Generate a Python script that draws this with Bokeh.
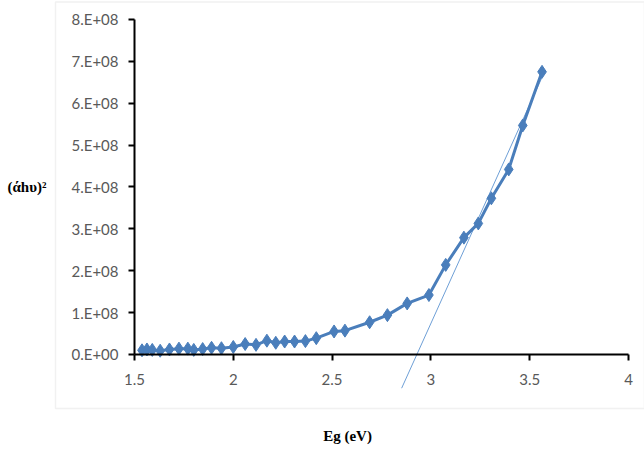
from bokeh.plotting import figure
from bokeh.models import Range1d, FixedTicker, BoxAnnotation, Label
from bokeh.embed import file_html
from bokeh.resources import INLINE

# data
eg = [1.538, 1.563, 1.59, 1.63, 1.677, 1.725, 1.77, 1.80, 1.845, 1.89, 1.94, 2.0,
      2.06, 2.115, 2.17, 2.215, 2.26, 2.31, 2.365, 2.42, 2.51, 2.565, 2.69, 2.78,
      2.88, 2.99, 3.075, 3.167, 3.24, 3.306, 3.394, 3.465, 3.5625]
ahv2 = [0.10e8, 0.12e8, 0.11e8, 0.09e8, 0.12e8, 0.14e8, 0.14e8, 0.11e8, 0.13e8, 0.16e8, 0.15e8, 0.18e8,
        0.25e8, 0.23e8, 0.33e8, 0.28e8, 0.31e8, 0.31e8, 0.32e8, 0.39e8, 0.55e8, 0.57e8, 0.77e8, 0.94e8,
        1.22e8, 1.42e8, 2.14e8, 2.79e8, 3.13e8, 3.73e8, 4.42e8, 5.47e8, 6.75e8]

# linear (Tauc) extrapolation line
trend_x0 = 2.929       # intercept with y = 0
trend_slope = 10.45e8  # per eV
trend_x = [2.852, 3.575]
trend_y = [trend_slope * (x - trend_x0) for x in trend_x]

x_ticks = [1.5, 2, 2.5, 3, 3.5, 4]
x_tick_labels = ["1.5", "2", "2.5", "3", "3.5", "4"]
y_ticks = [0, 1e8, 2e8, 3e8, 4e8, 5e8, 6e8, 7e8, 8e8]
y_tick_labels = ["0.E+00", "1.E+08", "2.E+08", "3.E+08", "4.E+08", "5.E+08", "6.E+08", "7.E+08", "8.E+08"]
x_title = "Eg (eV)"
y_title = "(άhυ)²"

# whole canvas is the frame; axes sit inside at fixed locations
p = figure(width=644, height=453, output_backend="svg", toolbar_location=None,
           x_range=Range1d(0.8219, 4.081), y_range=Range1d(-2.3642e8, 8.4537e8),
           min_border=0)
p.grid.visible = False
p.outline_line_color = None
p.background_fill_color = "white"
p.border_fill_color = "white"

# chart-area border
p.add_layout(BoxAnnotation(left=1.1002, top=8.42e8, bottom=-1.2896e8,
                           fill_alpha=0, line_color="#cfcfcf", line_width=1.5,
                           level="underlay"))

p.line(trend_x, trend_y, line_color="#6e9fd6", line_width=1)
p.line(eg, ahv2, line_color="#4a7ebb", line_width=3)
p.scatter(eg, ahv2, marker="diamond", size=13, fill_color="#4a7ebb", line_color="#4a7ebb")

for ax in (p.xaxis[0], p.yaxis[0]):
    ax.axis_line_color = "black"
    ax.axis_line_width = 2
    ax.major_tick_line_color = "black"
    ax.major_tick_line_width = 2
    ax.major_tick_in = 0
    ax.major_tick_out = 6
    ax.minor_tick_line_color = None
    ax.major_label_text_font = "Lato"
    ax.major_label_text_font_size = "15px"
    ax.major_label_text_color = "#595959"

p.xaxis.fixed_location = 0
p.yaxis.fixed_location = 1.5
p.xaxis.bounds = (1.5, 4)
p.yaxis.bounds = (0, 8e8)
p.xaxis.ticker = FixedTicker(ticks=x_ticks)
p.yaxis.ticker = FixedTicker(ticks=y_ticks)
p.yaxis.major_label_overrides = dict(zip(y_ticks, y_tick_labels))
p.xaxis.major_label_overrides = dict(zip(x_ticks, x_tick_labels))
p.xaxis.major_label_standoff = 14
p.yaxis.major_label_standoff = 10

p.add_layout(Label(x=0.857, y=4.0e8, text=y_title,
                   text_font="Liberation Serif", text_font_style="bold", text_font_size="15px",
                   text_baseline="middle", text_align="left", text_color="black"))
p.add_layout(Label(x=2.578, y=-1.958e8, text=x_title,
                   text_font="Liberation Serif", text_font_style="bold", text_font_size="15px",
                   text_baseline="middle", text_align="center", text_color="black"))

open("out.html", "w").write(file_html(p, INLINE))
